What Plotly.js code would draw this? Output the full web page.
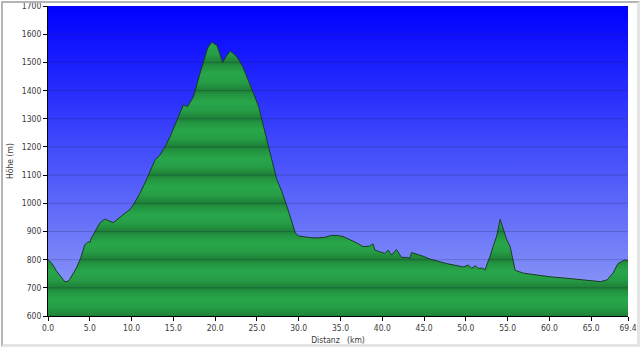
<!DOCTYPE html>
<html>
<head>
<meta charset="utf-8">
<script src="https://cdn.plot.ly/plotly-3.0.1.min.js"></script>
<style>
  html, body { margin: 0; padding: 0; background: #ffffff; }
  #wrap { position: relative; width: 640px; height: 347px; overflow: hidden; }
  #chart { width: 640px; height: 347px; }
  #frame { position: absolute; left: 1px; top: 1px; width: 634px; height: 341px;
           border-top: 2px solid #b4b4b4; border-left: 2px solid #b4b4b4;
           border-right: 3px solid #e4e4e4; border-bottom: 3px solid #e4e4e4;
           pointer-events: none; }
</style>
</head>
<body>
<div id="wrap"><div id="chart"></div><div id="frame"></div></div>
<script>
// Distance along the route (km)
const distanceKm = [0.0,0.5,1.0,1.5,2.0,2.3,2.6,3.0,3.4,3.9,4.4,4.8,5.0,5.2,5.7,6.2,6.8,7.3,7.8,8.5,
  9.2,9.8,10.2,10.9,11.6,12.2,12.8,13.4,14.0,14.6,15.4,16.2,16.7,17.4,18.2,18.7,19.1,19.5,19.7,19.9,
  20.2,20.5,20.9,21.3,21.8,22.4,22.7,23.3,24.0,24.6,25.2,25.8,26.4,26.9,27.4,28.0,28.6,29.1,29.6,30.0,
  30.5,31.4,32.3,33.1,33.9,34.6,35.3,36.1,36.9,37.7,38.5,38.9,39.1,39.7,40.3,40.7,41.1,41.7,42.3,43.0,
  43.3,43.5,44.1,44.9,45.7,46.7,47.7,48.7,49.7,50.3,50.7,51.1,51.5,52.0,52.3,52.6,52.9,53.3,53.7,54.1,
  54.5,54.9,55.3,55.6,55.9,56.9,58.5,60.1,61.7,63.3,64.7,66.1,66.9,67.6,68.2,68.6,69.0,69.4];
// Elevation (m)
const elevationM = [800,785,760,740,722,722,730,750,770,805,852,864,860,877,905,930,944,938,931,948,
  965,978,994,1030,1072,1110,1153,1171,1200,1236,1290,1349,1343,1378,1462,1515,1551,1568,1572,1565,
  1562,1535,1500,1520,1540,1526,1515,1485,1437,1390,1343,1275,1201,1140,1083,1040,988,940,894,884,
  881,878,877,879,886,886,882,872,860,846,848,856,834,828,822,834,816,836,808,808,
  805,825,820,812,802,793,786,780,774,781,769,778,769,770,763,790,812,850,885,943,
  910,870,846,800,762,752,745,739,735,730,726,722,728,752,786,793,799,796];

const xTicks = [0,5,10,15,20,25,30,35,40,45,50,55,60,65,69.4];
const xTickText = xTicks.map(v => v.toFixed(1));
const yTicks = [600,700,800,900,1000,1100,1200,1300,1400,1500,1600,1700];
const xRange = [0, 69.4];
const yRange = [600, 1700];

// Softly banded green gradient (a little darker near each 100 m gridline)
const nBands = (yRange[1] - yRange[0]) / 100;
const greenScale = [];
for (let i = 0; i < nBands; i++) {
  greenScale.push([i / nBands, 'rgb(30,128,55)']);
  greenScale.push([(i + 0.3) / nBands, 'rgb(38,158,70)']);
  greenScale.push([(i + 0.6) / nBands, 'rgb(40,166,74)']);
  greenScale.push([(i + 0.88) / nBands, 'rgb(34,146,63)']);
}
greenScale.push([1, 'rgb(30,128,55)']);

const bgTrace = {
  x: xRange, y: [yRange[1], yRange[1]],
  type: 'scatter', mode: 'lines', line: {width: 0},
  fill: 'tozeroy',
  fillgradient: {type: 'vertical', start: yRange[0], stop: yRange[1],
    colorscale: [[0, 'rgb(150,162,246)'], [0.5, 'rgb(72,82,250)'], [1, 'rgb(0,0,255)']]},
  hoverinfo: 'skip', showlegend: false
};

const profile = {
  x: distanceKm, y: elevationM,
  type: 'scatter', mode: 'lines',
  line: {color: 'rgb(25,60,35)', width: 1},
  fill: 'tozeroy',
  fillgradient: {type: 'vertical', start: yRange[0], stop: yRange[1], colorscale: greenScale},
  hoverinfo: 'skip', showlegend: false
};

const gridShapes = yTicks.slice(1, -1).map(v => ({
  type: 'line', xref: 'paper', x0: 0, x1: 1, yref: 'y', y0: v, y1: v,
  layer: 'above', line: {color: 'rgba(20,30,70,0.22)', width: 1}
}));

const tickFont = {family: '"DejaVu Sans Condensed", "DejaVu Sans", sans-serif', size: 8.5, color: '#3a3a3a'};

const layout = {
  width: 640, height: 347,
  margin: {l: 48, r: 12, t: 6, b: 31},
  paper_bgcolor: '#ffffff', plot_bgcolor: '#ffffff',
  showlegend: false,
  xaxis: {
    range: xRange, tickvals: xTicks, ticktext: xTickText,
    showgrid: false, zeroline: false,
    showline: true, linecolor: '#000000', linewidth: 1,
    ticks: 'outside', ticklen: 4, tickcolor: '#000000',
    tickfont: tickFont, layer: 'above traces',
    title: {text: 'Distanz&nbsp;&nbsp;&nbsp;(km)', font: tickFont, standoff: 4}
  },
  yaxis: {
    range: yRange, tickvals: yTicks,
    showgrid: false, zeroline: false,
    showline: true, linecolor: '#000000', linewidth: 1,
    ticks: 'outside', ticklen: 4, tickcolor: '#000000',
    tickfont: tickFont, layer: 'above traces', automargin: 'left',
    title: {text: 'Höhe (m)', font: tickFont, standoff: 6}
  },
  shapes: gridShapes
};

Plotly.newPlot('chart', [bgTrace, profile], layout, {displayModeBar: false, staticPlot: true});
</script>
</body>
</html>
